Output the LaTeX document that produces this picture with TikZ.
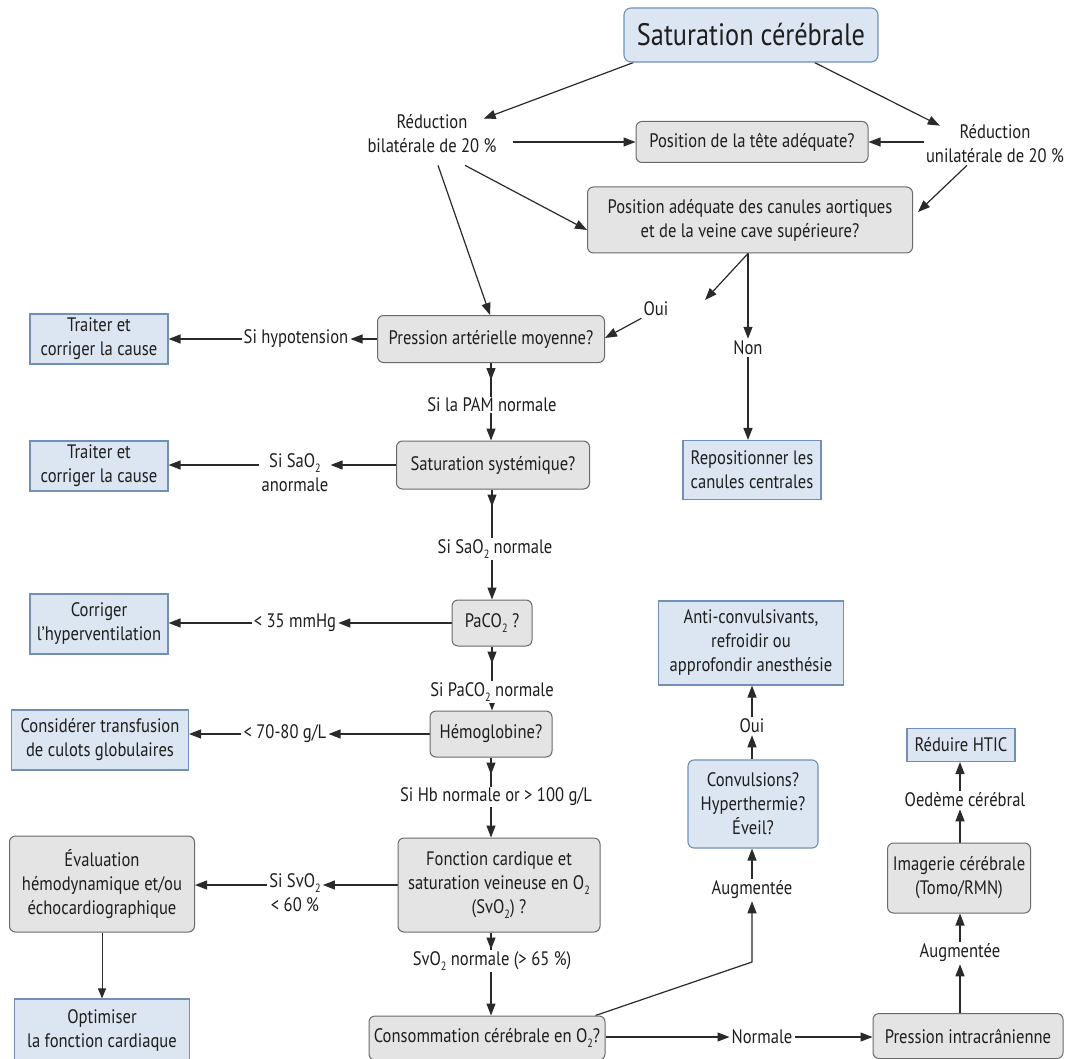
\documentclass[tikz,border=0pt]{standalone}
\usepackage{fontspec}
\setmainfont{PT Sans}[FakeStretch=0.85]
\usetikzlibrary{arrows.meta,decorations.markings,backgrounds}
\definecolor{bluefill}{HTML}{DCE6F2}
\definecolor{bluedraw}{HTML}{7090B4}
\definecolor{grayfill}{HTML}{E4E4E4}
\definecolor{graydraw}{HTML}{6A6A6A}
\definecolor{linecol}{HTML}{2A2A2A}
\definecolor{textcol}{HTML}{1E1E1E}
\newcommand{\lowsub}[1]{\raisebox{-0.55ex}{\fontsize{12}{12}\selectfont #1}}
\tikzset{
  bluebox/.style={draw=bluedraw, fill=bluefill, line width=1.1pt, align=center, inner sep=2pt},
  graybox/.style={draw=graydraw, fill=grayfill, line width=1pt, rounded corners=6pt, align=center, inner sep=2pt},
  titlebox/.style={draw=bluedraw, fill=bluefill, line width=1.1pt, rounded corners=7pt, align=center,
    font=\fontsize{31}{36}\selectfont},
  lbl/.style={align=center, inner sep=2pt},
  wlbl/.style={align=center, inner sep=1pt, fill=white},
  arr/.style={draw=linecol, line width=1.2pt, -{Triangle[length=12pt,width=9pt]}},
  thinarr/.style={draw=linecol, line width=0.8pt, -{Triangle[length=10pt,width=8pt]}},
  midhead/.style={postaction={decorate, decoration={markings,
      mark=at position 17pt with {\arrow[linecol]{Triangle[length=12pt,width=9pt]}}}}},
}
\begin{document}
\begin{tikzpicture}[x=1pt,y=-1pt, every node/.style={font=\fontsize{19.5}{24}\selectfont, text=textcol}]
\useasboundingbox (0,0) rectangle (1070,1059);

% top
\node[titlebox, minimum width=254pt, minimum height=54pt] (title) at (751,35) {Saturation cérébrale};
\node[lbl] (bil) at (432,134) {Réduction\\bilatérale de 20 \%};
\node[graybox, minimum width=232pt, minimum height=41pt] (tete) at (752,142) {Position de la tête adéquate?};
\node[lbl] (uni) at (995,144) {Réduction\\unilatérale de 20 \%};
\node[graybox, minimum width=325pt, minimum height=66pt] (can) at (750,220) {Position adéquate des canules aortiques\\et de la veine cave supérieure?};
\node[lbl] (oui1) at (656,309) {Oui};
\coordinate (dang) at (705,300);
\node[lbl] (non) at (748,348) {Non};
\node[bluebox, minimum width=138pt, minimum height=59pt] (rep) at (752,470) {Repositionner les\\canules centrales};

% middle column
\node[graybox, minimum width=227pt, minimum height=47pt] (pam) at (491,339) {Pression artérielle moyenne?};
\node[wlbl] (pamn) at (492,405) {Si la PAM normale};
\node[graybox, minimum width=193pt, minimum height=48pt] (sat) at (493,465) {Saturation systémique?};
\node[wlbl] (saon) at (495,549) {Si SaO\lowsub{2} normale};
\node[graybox, minimum width=80pt, minimum height=46pt] (paco) at (492,623) {PaCO\lowsub{2} ?};
\node[wlbl] (pacon) at (492,692) {Si PaCO\lowsub{2} normale};
\node[graybox, minimum width=122pt, minimum height=46pt] (hem) at (491,734) {Hémoglobine?};
\node[wlbl] (hbn) at (496,797) {Si Hb normale or > 100 g/L};
\node[graybox, minimum width=202pt, minimum height=94pt] (fonc) at (499,885) {Fonction cardique et\\saturation veineuse en O\lowsub{2}\\(SvO\lowsub{2}) ?};
\node[wlbl] (svon) at (492,961) {SvO\lowsub{2} normale (> 65 \%)};
\node[graybox, minimum width=236pt, minimum height=44pt] (cons) at (487,1038) {Consommation cérébrale en O\lowsub{2}?};

% left labels and boxes
\node[lbl] (hypo) at (296,339) {Si hypotension};
\node[bluebox, minimum width=138pt, minimum height=50pt] (tr1) at (99,339) {Traiter et\\corriger la cause};
\node[lbl, anchor=north] (saoa) at (295,451) {Si SaO\lowsub{2}\\anormale};
\node[bluebox, minimum width=138pt, minimum height=50pt] (tr2) at (99,466) {Traiter et\\corriger la cause};
\node[lbl] (mmhg) at (295,623) {< 35 mmHg};
\node[bluebox, minimum width=138pt, minimum height=60pt] (corr) at (99,624) {Corriger\\l’hyperventilation};
\node[lbl] (gl) at (285,734) {< 70-80 g/L};
\node[bluebox, minimum width=177pt, minimum height=60pt] (trans) at (100,740) {Considérer transfusion\\de culots globulaires};
\node[lbl, anchor=north] (svo) at (295,871) {Si SvO\lowsub{2}\\< 60 \%};
\node[graybox, minimum width=185pt, minimum height=96pt] (eval) at (102,884) {Évaluation\\hémodynamique et/ou\\échocardiographique};
\node[bluebox, minimum width=175pt, minimum height=62pt] (opt) at (102,1030) {Optimiser\\la fonction cardiaque};

% right bottom
\node[lbl] (norm) at (762,1037) {Normale};
\node[graybox, minimum width=190pt, minimum height=45pt] (pic) at (968,1036) {Pression intracrânienne};
\node[lbl] (aug1) at (752,890) {Augmentée};
\coordinate (bend) at (752,962);
\node[bluebox, rounded corners=6pt, minimum width=130pt, minimum height=88pt] (conv) at (753,804) {Convulsions?\\Hyperthermie?\\Éveil?};
\node[lbl] (oui2) at (752,726) {Oui};
\node[bluebox, minimum width=185pt, minimum height=84pt] (anti) at (751,643) {Anti-convulsivants,\\refroidir ou\\approfondir anesthésie};
\node[lbl] (aug2) at (960,953) {Augmentée};
\node[graybox, minimum width=143pt, minimum height=70pt] (img) at (959,878) {Imagerie cérébrale\\(Tomo/RMN)};
\node[lbl] (oed) at (965,800) {Oedème cérébral};
\node[bluebox, minimum width=108pt, minimum height=33pt] (htic) at (961,745) {Réduire HTIC};

\begin{scope}[on background layer]
\fill[white] (0,0) rectangle (1070,1059);
% top arrows
\draw[arr] ([xshift=10pt]title.south west) -- ([xshift=-15pt,yshift=-6pt]bil.north east);
\draw[arr] ([xshift=-64pt]title.south east) -- ([xshift=16pt,yshift=-3pt]uni.north west);
\draw[arr] ([xshift=14pt,yshift=-8pt]bil.east) -- (tete.west);
\draw[arr] (uni.west |- tete.east) -- (tete.east);
\draw[arr] ([xshift=-28pt]uni.south) -- ([xshift=5pt,yshift=8pt]can.east);
\draw[arr] ([xshift=33pt,yshift=-10pt]bil.south) -- ([yshift=-10pt]can.west);
\draw[arr] ([xshift=6pt,yshift=-10pt]bil.south) -- ([xshift=-1pt]pam.north);
\draw[arr] ([xshift=-2pt]can.south) -- (dang);
\draw[arr] ([xshift=-2pt]can.south) -- (non.north);
\draw[arr] (non.south) -- (non.south |- rep.north);
\draw[arr] (oui1.south west) -- ([yshift=1pt]pam.east);
% vertical chain
\draw[arr, midhead] (pam.south) -- (pam.south |- sat.north);
\draw[arr, midhead] (sat.south -| paco.north) -- (paco.north);
\draw[arr, midhead] (paco.south) -- (paco.south |- hem.north);
\draw[arr, midhead] (hem.south) -- (hem.south |- fonc.north);
\draw[arr, midhead] (hem.south |- fonc.south) -- (hem.south |- cons.north);
% left arrows
\draw[arr] (pam.west) -- (hypo.east);
\draw[arr] (hypo.west) -- (tr1.east);
\draw[arr] (sat.west) -- (saoa.east |- sat.west);
\draw[arr] (saoa.west |- sat.west) -- (tr2.east |- sat.west);
\draw[arr] (paco.west) -- (mmhg.east);
\draw[arr] (mmhg.west) -- (corr.east |- mmhg.west);
\draw[arr] (hem.west) -- (gl.east);
\draw[arr] (gl.west) -- (trans.east |- gl.west);
\draw[arr] (fonc.west) -- (svo.east |- fonc.west);
\draw[arr] (svo.west |- fonc.west) -- (eval.east |- fonc.west);
\draw[thinarr] (eval.south) -- (opt.north);
% right bottom
\draw[arr] ([xshift=-10pt]cons.north east) -- (bend) -- (aug1.south);
\draw[arr] (aug1.north) -- (aug1.north |- conv.south);
\draw[arr] (oui2.south |- conv.north) -- (oui2.south);
\draw[arr] (oui2.north) -- (oui2.north |- anti.south);
\draw[arr] (cons.east |- norm.west) -- (norm.west);
\draw[arr] (norm.east) -- (pic.west |- norm.east);
\draw[arr] (aug2.south |- pic.north) -- (aug2.south);
\draw[arr] (aug2.north) -- (aug2.north |- img.south);
\draw[arr] (aug2.north |- img.north) -- (aug2.north |- oed.south);
\draw[arr] (aug2.north |- oed.north) -- (aug2.north |- htic.south);
\end{scope}
\end{tikzpicture}
\end{document}
